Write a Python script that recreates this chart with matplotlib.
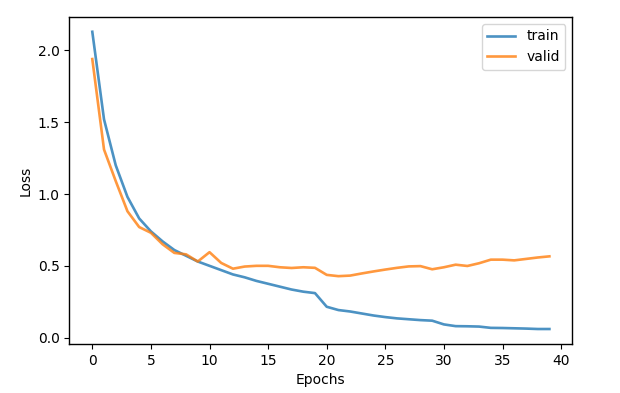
import numpy as np
import matplotlib
matplotlib.use("Agg")
import matplotlib.pyplot as plt

# valores
epochs = list(range(40))
train_loss = [2.13, 1.52, 1.20, 0.98, 0.83, 0.74, 0.67, 0.61, 0.57, 0.53,
              0.50, 0.47, 0.44, 0.42, 0.395, 0.375, 0.355, 0.335, 0.32, 0.31,
              0.215, 0.192, 0.182, 0.168, 0.154, 0.143, 0.134, 0.128, 0.122, 0.118,
              0.092, 0.08, 0.079, 0.077, 0.068, 0.067, 0.065, 0.063, 0.06, 0.06]
valid_loss = [1.94, 1.31, 1.09, 0.88, 0.77, 0.73, 0.65, 0.59, 0.58, 0.53,
              0.595, 0.52, 0.48, 0.495, 0.50, 0.50, 0.49, 0.485, 0.49, 0.486,
              0.437, 0.428, 0.432, 0.447, 0.461, 0.474, 0.486, 0.496, 0.498, 0.476,
              0.49, 0.508, 0.499, 0.518, 0.543, 0.543, 0.538, 0.548, 0.558, 0.566]

fig = plt.figure(figsize=(6.2, 3.93), dpi=100)
ax = fig.add_axes([0.112, 0.125, 0.811, 0.832])
ax.plot(epochs, train_loss, alpha=0.8, lw=1.9, label='train')
ax.plot(epochs, valid_loss, alpha=0.8, lw=1.9, label='valid')
ax.set_xlabel("Epochs")
ax.set_ylabel("Loss")
ax.set_yticks([0.0, 0.5, 1.0, 1.5, 2.0])
for s in ax.spines.values():
    s.set_linewidth(1.0)
ax.legend()
fig.savefig("out.png")
